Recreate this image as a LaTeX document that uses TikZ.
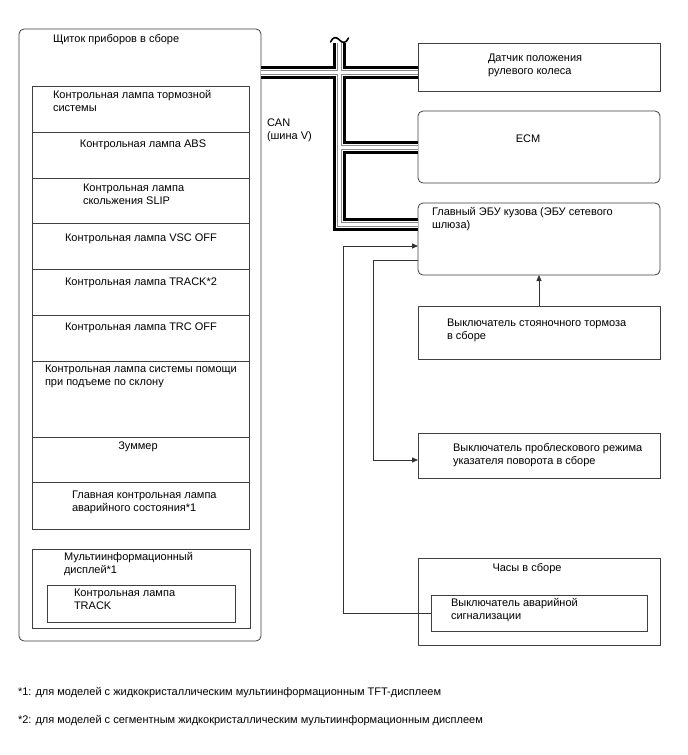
\documentclass[tikz,border=0pt]{standalone}
\usepackage{fontspec}
\setmainfont{Liberation Sans}
\usetikzlibrary{arrows.meta}
\begin{document}
\begin{tikzpicture}[x=1pt,y=-1pt,
  every node/.style={inner sep=0pt, outer sep=0pt},
  box/.style={draw=black!75, line width=0.8pt, anchor=north west},
  rbox/.style={box, rounded corners=5pt},
  txt/.style={align=left, anchor=north west, font=\fontsize{11}{13}\selectfont, execute at begin node=\rule{0pt}{8.5pt}},
  ctxt/.style={txt, anchor=north, align=center},
  arr/.style={draw=black!80, line width=0.8pt, -{Triangle[length=6pt,width=5pt]}},
  bus1/.style={line width=13pt, draw=black, line join=miter},
  bus2/.style={line width=7pt, draw=white, line join=miter},
  bus3/.style={line width=5pt, draw=black!45, line join=miter},
  bus4/.style={line width=3pt, draw=white, line join=miter}
]
\useasboundingbox (0,0) rectangle (688,755);
\fill[white] (0,0) rectangle (688,755);

% left panel
\node[rbox, minimum width=242pt, minimum height=612pt] (panel) at (19,29) {};
\node[txt] (ptitle) at (53,34) {Щиток приборов в сборе};

\node[box, minimum width=217pt, minimum height=46pt] (r1) at (32,86) {};
\node[box, minimum width=217pt, minimum height=46pt] (r2) at (32,132) {};
\node[box, minimum width=217pt, minimum height=45pt] (r3) at (32,178) {};
\node[box, minimum width=217pt, minimum height=46pt] (r4) at (32,223) {};
\node[box, minimum width=217pt, minimum height=46pt] (r5) at (32,269) {};
\node[box, minimum width=217pt, minimum height=46pt] (r6) at (32,315) {};
\node[box, minimum width=217pt, minimum height=76pt] (r7) at (32,361) {};
\node[box, minimum width=217pt, minimum height=45pt] (r8) at (32,437) {};
\node[box, minimum width=217pt, minimum height=47pt] (r9) at (32,482) {};

\node[txt] (t1) at (53,90) {Контрольная лампа тормозной\\системы};
\node[ctxt] (t2) at (143,138.5) {Контрольная лампа ABS};
\node[txt] (t3) at (83,183.5) {Контрольная лампа\\скольжения SLIP};
\node[ctxt] (t4) at (141,232.5) {Контрольная лампа VSC OFF};
\node[ctxt] (t5) at (141,277) {Контрольная лампа TRACK*2};
\node[ctxt] (t6) at (141,322) {Контрольная лампа TRC OFF};
\node[txt] (t7) at (45,364.5) {Контрольная лампа системы помощи\\при подъеме по склону};
\node[ctxt] (t8) at (138,441) {Зуммер};
\node[txt] (t9) at (72,490.5) {Главная контрольная лампа\\аварийного состояния*1};

\node[box, minimum width=218pt, minimum height=79pt] (mid) at (32,549) {};
\node[txt] (midt) at (64,552.5) {Мультиинформационный\\дисплей*1};
\node[box, minimum width=188pt, minimum height=37pt] (midin) at (47,585) {};
\node[txt] (midint) at (74,588.5) {Контрольная лампа\\TRACK};

% CAN bus
\coordinate (bustop) at (339.5,43);
\coordinate (j1) at (339.5,72.5);
\coordinate (j2) at (339.5,147);
\coordinate (j3) at (339.5,224);

% right boxes
\node[box, minimum width=242pt, minimum height=48pt] (sas) at (418,43) {};
\node[rbox, minimum width=242pt, minimum height=72pt] (ecm) at (418,111) {};
\node[rbox, minimum width=242pt, minimum height=72pt] (ecu) at (418,203) {};
\node[box, minimum width=242pt, minimum height=53pt] (park) at (418,306) {};
\node[box, minimum width=242pt, minimum height=45pt] (turn) at (418,433) {};
\node[box, minimum width=242pt, minimum height=87pt] (clock) at (418,558) {};
\node[box, minimum width=216pt, minimum height=36pt] (haz) at (431,595) {};

\foreach \s in {bus1,bus2,bus3,bus4}{
  \draw[\s] (j1 -| panel.east) -- (j1 -| sas.west);
  \draw[\s] (bustop) -- (j3) -- (j3 -| ecu.west);
  \draw[\s] (j2) -- (j2 -| ecm.west);
}
\draw[line width=1.6pt, line cap=round] (330.5,42) .. controls (333,36) and (337,37) .. (339.5,40) .. controls (342,43) and (346,44) .. (348.5,38);

\node[txt] (can) at (267,118.5) {CAN\\(шина V)};

\node[txt] (sast) at (488,54) {Датчик положения\\рулевого колеса};
\node[ctxt] (ecmt) at (528,133.5) {ECM};
\node[txt] (ecut) at (432,207.5) {Главный ЭБУ кузова (ЭБУ сетевого\\шлюза)};
\node[txt] (parkt) at (447,318.5) {Выключатель стояночного тормоза\\в сборе};
\node[txt] (turnt) at (453,443) {Выключатель проблескового режима\\указателя поворота в сборе};
\node[ctxt] (clockt) at (527,562.5) {Часы в сборе};
\node[txt] (hazt) at (451,598.5) {Выключатель аварийной\\сигнализации};

% signal lines
\coordinate (a1) at (343,613);
\coordinate (a2) at (343,246);
\coordinate (b1) at (373,260);
\coordinate (b2) at (373,460);
\coordinate (c1) at (539,300);
\draw[arr] (a1 -| haz.west) -- (a1) -- (a2) -- (a2 -| ecu.west);
\draw[arr] (b1 -| ecu.west) -- (b1) -- (b2) -- (b2 -| turn.west);
\draw[arr] (c1 |- park.north) -- (c1 |- ecu.south);

% footnotes
\node[txt] (fn1) at (18,687) {*1: для моделей с жидкокристаллическим мультиинформационным TFT-дисплеем};
\node[txt] (fn2) at (18,715) {*2: для моделей с сегментным жидкокристаллическим мультиинформационным дисплеем};
\end{tikzpicture}
\end{document}
